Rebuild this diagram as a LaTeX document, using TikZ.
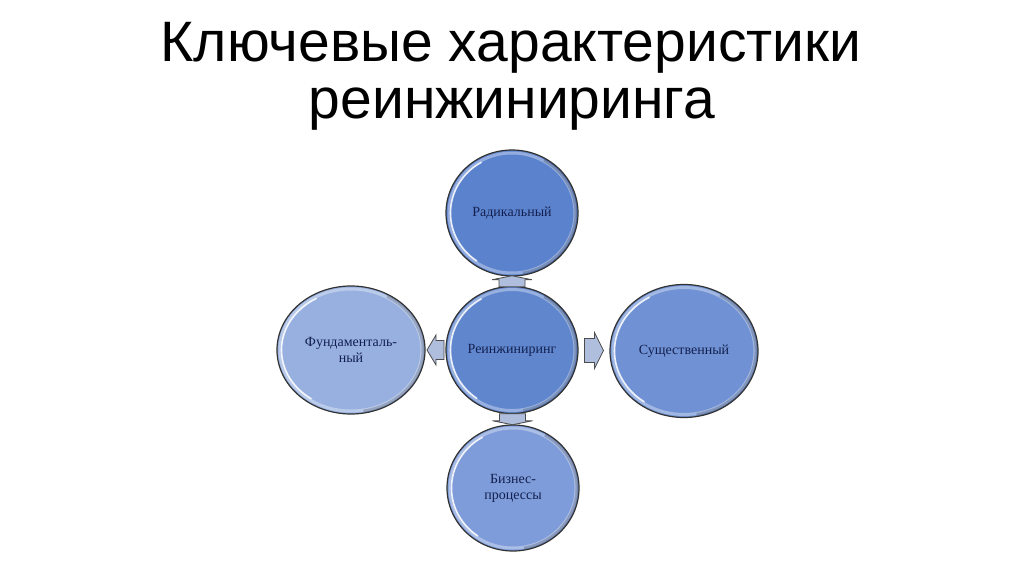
\documentclass[tikz,border=0pt]{standalone}
\usepackage{fontspec}
\setmainfont{Liberation Serif}
\newfontfamily\titlefont{Liberation Sans}
\usetikzlibrary{shapes.geometric,calc}
\definecolor{txt}{HTML}{13204F}
\definecolor{cRad}{HTML}{5B82CD}
\definecolor{cCore}{HTML}{6087CE}
\definecolor{cFund}{HTML}{97B0E0}
\definecolor{cSush}{HTML}{7092D4}
\definecolor{cBiz}{HTML}{7E9CDA}
\definecolor{arrfill}{HTML}{AFBEDD}
\tikzset{
  bub/.style={ellipse, draw=black!80, line width=1.2pt, text=txt,
    font=\fontsize{14}{16}\selectfont, align=center, inner sep=0pt,
    path picture={
      \draw[white, opacity=.35, line width=3pt]
        let \p1=(path picture bounding box.south west),
            \p2=(path picture bounding box.north east),
            \n1={(\x2-\x1)/2-3}, \n2={(\y2-\y1)/2-3} in
        ($(\p1)!.5!(\p2)$) ellipse [x radius=\n1, y radius=\n2];
      \draw[black, opacity=.18, line width=3pt]
        let \p1=(path picture bounding box.south west),
            \p2=(path picture bounding box.north east),
            \n1={(\x2-\x1)/2-2}, \n2={(\y2-\y1)/2-2} in
        ($(\p1)!.5!(\p2)$) ++({\n1*cos(-80)},{\n2*sin(-80)})
        arc[start angle=-80, end angle=60, x radius=\n1, y radius=\n2];
      \draw[white, opacity=.85, line width=1.6pt, line cap=round]
        let \p1=(path picture bounding box.south west),
            \p2=(path picture bounding box.north east),
            \n1={(\x2-\x1)/2-4.5}, \n2={(\y2-\y1)/2-4.5} in
        ($(\p1)!.5!(\p2)$) ++({\n1*cos(120)},{\n2*sin(120)})
        arc[start angle=120, end angle=235, x radius=\n1, y radius=\n2];
    }},
  barr/.style={fill=arrfill, draw=black!70, line width=0.8pt, line join=miter},
  ttl/.style={font=\titlefont\fontsize{57}{60}\selectfont, anchor=base, inner sep=0pt}
}
% #1 coordinate, #2 rotation, #3 length, #4 head width, #5 shaft width, #6 head length
\newcommand\blockarr[6]{%
  \begin{scope}[shift={(#1)}, rotate=#2]
    \draw[barr] (-#3/2,-#5/2) -- (#3/2-#6,-#5/2) -- (#3/2-#6,-#4/2) -- (#3/2,0)
      -- (#3/2-#6,#4/2) -- (#3/2-#6,#5/2) -- (-#3/2,#5/2) -- cycle;
  \end{scope}}
\begin{document}
\begin{tikzpicture}[x=1pt,y=1pt]
\useasboundingbox[fill=white] (0,0) rectangle (1024,574);

\node[ttl] (t1) at (511,512) {Ключевые характеристики};
\node[ttl] (t2) at (512,455) {реинжиниринга};

\node[bub, fill=cRad, minimum width=132, minimum height=126] (rad) at (512,361) {Радикальный};
\node[bub, fill=cCore, minimum width=132, minimum height=127] (core) at (512,224) {Реинжиниринг};
\node[bub, fill=cFund, minimum width=148, minimum height=128] (fund) at (351,224) {Фундаменталь-\\ный};
\node[bub, fill=cSush, minimum width=148, minimum height=133] (sush) at (684,223) {Существенный};
\node[bub, fill=cBiz, minimum width=132, minimum height=126] (biz) at (513,86) {Бизнес-\\процессы};

\coordinate (aup) at ($(core.north)!.5!(rad.south)$);
\coordinate (adn) at ($(core.south)!.5!(biz.north)$);
\coordinate (alf) at ($(core.west)!.5!(fund.east)$);
\coordinate (arg) at ($(core.east)!.5!(sush.west)$);

\blockarr{aup}{90}{11}{40}{26}{4}
\blockarr{adn}{-90}{11}{40}{26}{4}
\blockarr{alf}{180}{17}{30}{19}{9}
\blockarr{arg}{0}{19}{36}{24}{9}
\end{tikzpicture}
\end{document}
